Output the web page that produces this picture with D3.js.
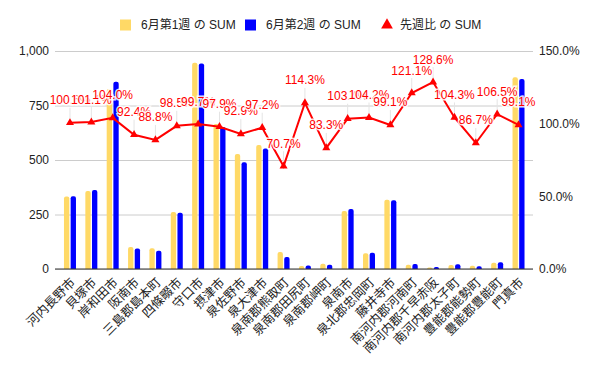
<!DOCTYPE html>
<html>
<head>
<meta charset="utf-8">
<script src="https://cdn.jsdelivr.net/npm/d3@7"></script>
<style>
body { margin: 0; background: #fff; }
svg { display: block; font-family: "Liberation Sans", Arial, sans-serif; }
</style>
</head>
<body>
<div id="chart"></div>
<script>
var svgWidth = 600;
var svgHeight = 371;

// data
var categories = ["河内長野市", "貝塚市", "岸和田市", "阪南市", "三島郡島本町", "四條畷市", "守口市",
  "摂津市", "泉佐野市", "泉大津市", "泉南郡熊取町", "泉南郡田尻町", "泉南郡岬町", "泉南市",
  "泉北郡忠岡町", "藤井寺市", "南河内郡河南町", "南河内郡千早赤阪", "南河内郡太子町",
  "豊能郡能勢町", "豊能郡豊能町", "門真市"];
var week1 = [332, 358, 826, 101, 95, 262, 946, 665, 527, 569, 78, 14, 24, 266, 72, 318, 19, 7, 18, 15, 29, 880];
var week2 = [334, 362, 859, 94, 84, 258, 943, 651, 490, 553, 55, 16, 20, 275, 75, 315, 23, 9, 22, 13, 31, 872];
var ratio = [100.6, 101.1, 104.0, 92.4, 88.8, 98.5, 99.7, 97.9, 92.9, 97.2, 70.7, 114.3, 83.3, 103.4,
  104.2, 99.1, 121.1, 128.6, 104.3, 86.7, 106.5, 99.1];
var leftTicks = [0, 250, 500, 750, 1000];
var rightTicks = [0, 50, 100, 150];
var seriesNames = ["6月第1週 の SUM", "6月第2週 の SUM", "先週比 の SUM"];
var colors = ["#ffd966", "#0000ff", "#ff0000"];

var plot = { left: 55, right: 533, top: 51, bottom: 269 };

var svg = d3.select("#chart")
  .append("svg")
  .attr("width", svgWidth)
  .attr("height", svgHeight);

var x0 = d3.scaleBand()
  .domain(categories)
  .range([59.3, 529.2])
  .padding(0);

var x1 = d3.scaleBand()
  .domain(["w1", "w2"])
  .range([-6, 6])
  .paddingInner(0.2);

var yLeft = d3.scaleLinear().domain([0, 1000]).range([plot.bottom, plot.top]);
var yRight = d3.scaleLinear().domain([0, 150]).range([plot.bottom, plot.top]);

// gridlines
svg.append("g")
  .attr("transform", `translate(${plot.left},0)`)
  .call(d3.axisLeft(yLeft).tickValues(leftTicks).tickSize(-(plot.right - plot.left)).tickFormat(""))
  .call(g => g.select(".domain").remove())
  .call(g => g.selectAll("line").attr("stroke", "#cccccc"));

// left axis
svg.append("g")
  .attr("transform", `translate(${plot.left},0)`)
  .call(d3.axisLeft(yLeft).tickValues(leftTicks).tickSize(0).tickPadding(6).tickFormat(d3.format(",")))
  .call(g => g.select(".domain").remove())
  .call(g => g.selectAll("text").attr("fill", "#222").style("font-size", "12px")
    .style("font-family", "'Liberation Sans', Arial, sans-serif"));

// right axis
svg.append("g")
  .attr("transform", `translate(${plot.right},0)`)
  .call(d3.axisRight(yRight).tickValues(rightTicks).tickSize(0).tickPadding(6).tickFormat(d => d.toFixed(1) + "%"))
  .call(g => g.select(".domain").remove())
  .call(g => g.selectAll("text").attr("fill", "#222").style("font-size", "12px")
    .style("font-family", "'Liberation Sans', Arial, sans-serif"));

// bars
var rows = categories.map((c, i) => ({ cat: c, w1: week1[i], w2: week2[i], r: ratio[i] }));

var groups = svg.append("g").selectAll("g")
  .data(rows)
  .enter()
  .append("g")
  .attr("transform", d => `translate(${x0(d.cat) + x0.bandwidth() / 2},0)`);

groups.selectAll("path")
  .data(d => [{ k: "w1", v: d.w1, c: colors[0] }, { k: "w2", v: d.w2, c: colors[1] }])
  .enter()
  .append("path")
  .attr("fill", d => d.c)
  .attr("d", function(d) {
    var x = x1(d.k), w = x1.bandwidth();
    var yt = yLeft(d.v), yb = yLeft(0);
    var r = Math.min(2, w / 2, (yb - yt));
    return `M${x},${yb} V${yt + r} Q${x},${yt} ${x + r},${yt} H${x + w - r} Q${x + w},${yt} ${x + w},${yt + r} V${yb} Z`;
  });

// baseline
svg.append("line")
  .attr("x1", plot.left).attr("x2", plot.right)
  .attr("y1", plot.bottom).attr("y2", plot.bottom)
  .attr("stroke", "#333").attr("stroke-width", 1);

// line series
var cx = d => x0(d.cat) + x0.bandwidth() / 2;

var line = d3.line()
  .x(cx)
  .y(d => yRight(d.r));

// leader lines
svg.append("g").selectAll("line")
  .data(rows)
  .enter()
  .append("line")
  .attr("x1", cx).attr("x2", cx)
  .attr("y1", d => yRight(d.r) - 15)
  .attr("y2", d => yRight(d.r) - 3)
  .attr("stroke", "#e4e4e4")
  .attr("stroke-width", 1);

svg.append("path")
  .datum(rows)
  .attr("fill", "none")
  .attr("stroke", colors[2])
  .attr("stroke-width", 2)
  .attr("d", line);

svg.append("g").selectAll("path")
  .data(rows)
  .enter()
  .append("path")
  .attr("transform", d => `translate(${cx(d)},${yRight(d.r)})`)
  .attr("d", d3.symbol(d3.symbolTriangle).size(28))
  .attr("fill", colors[2]);

// data labels
svg.append("g").selectAll("text")
  .data(rows)
  .enter()
  .append("text")
  .attr("x", cx)
  .attr("y", d => yRight(d.r) - 18.5)
  .attr("text-anchor", "middle")
  .attr("fill", colors[2])
  .attr("stroke", "rgba(255,255,255,0.85)")
  .attr("stroke-width", 3)
  .attr("paint-order", "stroke")
  .style("font-size", "12px")
  .text(d => d.r.toFixed(1) + "%");

// category labels
svg.append("g").selectAll("text")
  .data(categories)
  .enter()
  .append("text")
  .attr("transform", d => `translate(${x0(d) + x0.bandwidth() / 2 + 3},${plot.bottom + 11}) rotate(-45)`)
  .attr("text-anchor", "end")
  .attr("dy", "0.35em")
  .attr("fill", "#222")
  .style("font-size", "12.5px")
  .style("font-family", "'Noto Sans CJK JP', sans-serif")
  .text(d => d);

// legend
var legendX = [120, 245, 382];
var legend = svg.append("g").selectAll("g")
  .data(seriesNames)
  .enter()
  .append("g")
  .attr("transform", (d, i) => `translate(${legendX[i]},25)`);

legend.each(function(d, i) {
  var g = d3.select(this);
  if (i < 2) {
    g.append("rect").attr("x", 0).attr("y", -5.5).attr("width", 11).attr("height", 11).attr("fill", colors[i]);
  } else {
    g.append("path").attr("transform", "translate(5,0)")
      .attr("d", d3.symbol(d3.symbolTriangle).size(60)).attr("fill", colors[i]);
  }
  g.append("text")
    .attr("x", i < 2 ? 21 : 18)
    .attr("dy", "0.35em")
    .attr("fill", "#222")
    .style("font-size", "12px")
    .style("font-family", "'Liberation Sans', 'Noto Sans CJK JP', sans-serif")
    .text(d);
});
</script>
</body>
</html>
